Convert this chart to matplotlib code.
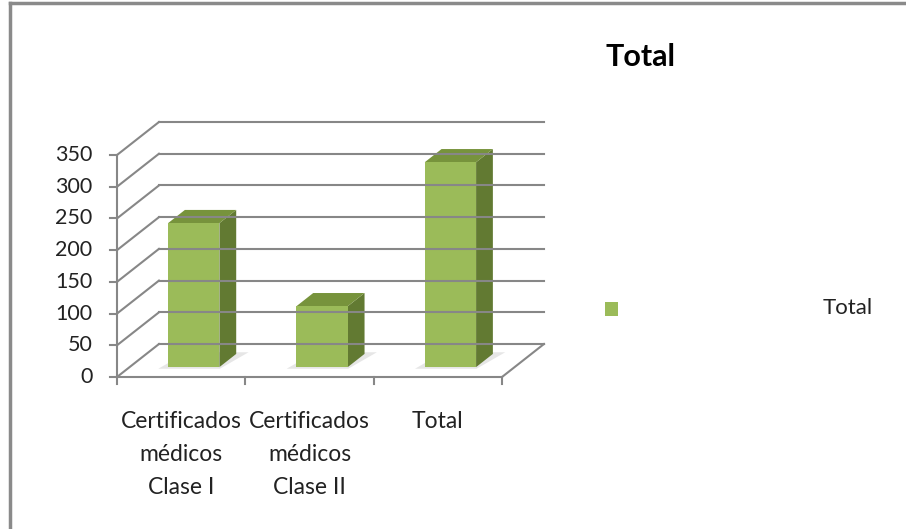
import matplotlib.pyplot as plt
from matplotlib.patches import Polygon, Rectangle
from matplotlib.lines import Line2D

plt.rcParams['font.family'] = ['Lato', 'DejaVu Sans']

# datos
categorias = ['Certificados\nmédicos\nClase I', 'Certificados\nmédicos\nClase II', 'Total']
valores = [227, 96, 323]
ticks_y = [0, 50, 100, 150, 200, 250, 300, 350]
titulo = 'Total'
serie = 'Total'

verde = '#9bbb59'
verde_top = '#77933c'
verde_lado = '#627a32'
gris = '#878787'

W, H = 906, 529
fig = plt.figure(figsize=(W / 100, H / 100), dpi=100)
ax = fig.add_axes([117 / W, 152 / H, 385 / W, 222 / H])
ax.set_xlim(0, 3)
ax.set_ylim(0, 350)
ax.axis('off')

# desplazamiento de profundidad (en unidades de datos)
DX, DY = 0.327, 52


def p(x, y, d):
    return (x + d * DX, y + d * DY)


# pared del fondo y pared izquierda
for v in ticks_y:
    a = p(0, v, 1)
    b = p(3, v, 1)
    ax.plot([a[0], b[0]], [a[1], b[1]], color=gris, lw=1.5, clip_on=False)
    c = p(0, v, 0)
    ax.plot([c[0], a[0]], [c[1], a[1]], color=gris, lw=1.5, clip_on=False)

# suelo
a = p(3, 0, 0)
b = p(3, 0, 1)
ax.plot([a[0], b[0]], [a[1], b[1]], color=gris, lw=1.5, clip_on=False)
ax.plot([0, 3], [0, 0], color=gris, lw=1.5, clip_on=False)
ax.plot([0, 0], [0, 350], color=gris, lw=1.5, clip_on=False)
for i in range(len(categorias) + 1):
    ax.plot([i, i], [0, -11], color=gris, lw=1.5, clip_on=False)
for v in ticks_y:
    ax.plot([-0.055, 0], [v, v], color=gris, lw=1.5, clip_on=False)
    ax.text(-0.19, v, str(v), ha='right', va='center', fontsize=15.5, color='#222222')

# barras
for i, v in enumerate(valores):
    x0, x1 = i + 0.3, i + 0.7
    d0, d1 = 0.3, 0.7
    sombra = [p(x0 - 0.06, 0, d0 - 0.05), p(x1 + 0.02, 0, d0 - 0.05),
              p(x1 + 0.08, 0, d1 + 0.05), p(x0, 0, d1 + 0.05)]
    ax.add_patch(Polygon(sombra, closed=True, facecolor='#dcdcdc', edgecolor='none', alpha=0.7, clip_on=False))
    frente = [p(x0, 0, d0), p(x1, 0, d0), p(x1, v, d0), p(x0, v, d0)]
    lado = [p(x1, 0, d0), p(x1, 0, d1), p(x1, v, d1), p(x1, v, d0)]
    arriba = [p(x0, v, d0), p(x1, v, d0), p(x1, v, d1), p(x0, v, d1)]
    ax.add_patch(Polygon(lado, closed=True, facecolor=verde_lado, edgecolor='none', clip_on=False))
    ax.add_patch(Polygon(arriba, closed=True, facecolor=verde_top, edgecolor='none', clip_on=False))
    ax.add_patch(Polygon(frente, closed=True, facecolor=verde, edgecolor='none', clip_on=False))

for i, c in enumerate(categorias):
    ax.text(i + 0.5, -54, c, ha='center', va='top', fontsize=16.5, color='#222222', linespacing=1.7)

# titulo y leyenda
fig.text(641 / W, 1 - 57 / H, titulo, ha='center', va='center', fontsize=22, fontweight='bold')
fig.add_artist(Rectangle((605 / W, 1 - 316 / H), 13 / W, 14 / H, transform=fig.transFigure,
                         facecolor=verde, edgecolor='none'))
fig.text(873 / W, 1 - 308 / H, serie, ha='right', va='center', fontsize=16, color='#222222')

# marco
fig.add_artist(Line2D([10 / W, 1], [1 - 3 / H, 1 - 3 / H], color='#8a8a8a', lw=2.5, transform=fig.transFigure))
fig.add_artist(Line2D([10 / W, 10 / W], [0, 1 - 3 / H], color='#8a8a8a', lw=2.5, transform=fig.transFigure))

fig.savefig('out.png', dpi=100)
